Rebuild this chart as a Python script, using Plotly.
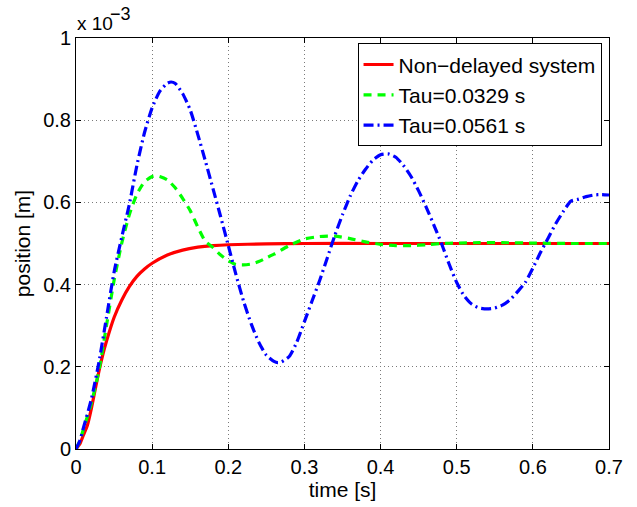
import plotly.graph_objects as go

# Step responses of the position loop (values in units of 1e-3 m)
t_nodelay = [0, 0.005, 0.01, 0.015, 0.02, 0.025, 0.03, 0.035, 0.04, 0.05, 0.06, 0.07,
             0.08, 0.09, 0.10, 0.12, 0.14, 0.16, 0.18, 0.20, 0.25, 0.30, 0.40, 0.50,
             0.60, 0.70]
pos_nodelay = [0, 0.012, 0.035, 0.058, 0.097, 0.143, 0.188, 0.228, 0.262, 0.32, 0.362,
               0.395, 0.42, 0.438, 0.452, 0.472, 0.484, 0.491, 0.495, 0.497, 0.499, 0.5,
               0.5, 0.5, 0.5, 0.5]

t_tau1 = [0, 0.005, 0.01, 0.02, 0.03, 0.04, 0.05, 0.06, 0.07, 0.08, 0.09, 0.10, 0.105,
          0.11, 0.12, 0.13, 0.14, 0.15, 0.16, 0.17, 0.18, 0.19, 0.20, 0.21, 0.22, 0.23,
          0.24, 0.25, 0.26, 0.28, 0.30, 0.32, 0.34, 0.36, 0.38, 0.40, 0.42, 0.44, 0.46,
          0.48, 0.50, 0.53, 0.56, 0.60, 0.65, 0.70]
pos_tau1 = [0, 0.02, 0.05, 0.11, 0.19, 0.30, 0.41, 0.50, 0.57, 0.62, 0.65, 0.663, 0.665,
            0.663, 0.655, 0.636, 0.61, 0.58, 0.54, 0.505, 0.49, 0.472, 0.458, 0.449,
            0.448, 0.45, 0.456, 0.465, 0.474, 0.495, 0.511, 0.517, 0.518, 0.512, 0.504,
            0.498, 0.495, 0.495, 0.497, 0.5, 0.501, 0.502, 0.502, 0.501, 0.5, 0.5]

t_tau2 = [0, 0.005, 0.01, 0.02, 0.03, 0.04, 0.05, 0.06, 0.07, 0.08, 0.09, 0.10, 0.11,
          0.12, 0.125, 0.13, 0.14, 0.15, 0.16, 0.17, 0.18, 0.19, 0.20, 0.21, 0.22, 0.23,
          0.24, 0.25, 0.26, 0.265, 0.27, 0.28, 0.29, 0.30, 0.31, 0.32, 0.33, 0.34, 0.35,
          0.36, 0.37, 0.38, 0.39, 0.40, 0.41, 0.42, 0.43, 0.44, 0.45, 0.46, 0.47, 0.48,
          0.49, 0.50, 0.51, 0.52, 0.53, 0.54, 0.55, 0.56, 0.57, 0.58, 0.59, 0.60, 0.61,
          0.62, 0.63, 0.64, 0.65, 0.66, 0.67, 0.68, 0.69, 0.70]
pos_tau2 = [0, 0.02, 0.053, 0.12, 0.21, 0.32, 0.43, 0.515, 0.595, 0.69, 0.77, 0.83, 0.87,
            0.89, 0.893, 0.89, 0.865, 0.825, 0.765, 0.70, 0.633, 0.565, 0.495, 0.425,
            0.36, 0.305, 0.26, 0.228, 0.213, 0.21, 0.212, 0.225, 0.26, 0.31, 0.36, 0.41,
            0.465, 0.52, 0.57, 0.615, 0.652, 0.68, 0.703, 0.716, 0.718, 0.71, 0.69,
            0.663, 0.628, 0.588, 0.545, 0.5, 0.45, 0.405, 0.372, 0.352, 0.343, 0.341,
            0.343, 0.35, 0.363, 0.383, 0.405, 0.44, 0.478, 0.513, 0.548, 0.578, 0.603,
            0.608, 0.614, 0.618, 0.619, 0.618]

x_ticks = [0, 0.1, 0.2, 0.3, 0.4, 0.5, 0.6, 0.7]
x_ticklabels = ["0", "0.1", "0.2", "0.3", "0.4", "0.5", "0.6", "0.7"]
y_ticks = [0, 0.2, 0.4, 0.6, 0.8, 1.0]
y_ticklabels = ["0", "0.2", "0.4", "0.6", "0.8", "1"]

FONT = "Liberation Sans, Arial, Helvetica, sans-serif"

fig = go.Figure()
fig.add_trace(go.Scatter(x=t_nodelay, y=pos_nodelay, mode="lines",
                         name="Non\u2212delayed system",
                         line=dict(color="#ff0000", width=3.2, shape="spline", smoothing=0.6)))
fig.add_trace(go.Scatter(x=t_tau1, y=pos_tau1, mode="lines", name="Tau=0.0329 s",
                         line=dict(color="#00ff00", width=3.2, dash="8px,6px",
                                   shape="spline", smoothing=0.6)))
fig.add_trace(go.Scatter(x=t_tau2, y=pos_tau2, mode="lines", name="Tau=0.0561 s",
                         line=dict(color="#0000ff", width=3.2, dash="10px,4px,2px,4px",
                                   shape="spline", smoothing=0.6)))

axis_common = dict(
    showline=True, linecolor="black", linewidth=1, mirror="allticks",
    ticks="inside", ticklen=5, tickcolor="black", tickwidth=1,
    showgrid=True, gridcolor="#7a7a7a", griddash="1px,3px", gridwidth=1,
    zeroline=False, tickfont=dict(family=FONT, size=20, color="black"),
)

fig.update_layout(
    width=637, height=507,
    margin=dict(l=76, r=28, t=38, b=52),
    paper_bgcolor="white", plot_bgcolor="white",
    font=dict(family=FONT, size=20, color="black"),
    xaxis=dict(range=[0, 0.7], tickvals=x_ticks, ticktext=x_ticklabels,
               title=dict(text="time [s]", font=dict(family=FONT, size=21), standoff=2),
               **axis_common),
    yaxis=dict(range=[0, 1.0], tickvals=y_ticks, ticktext=y_ticklabels,
               title=dict(text="position [m]", font=dict(family=FONT, size=21), standoff=6),
               **axis_common),
    legend=dict(x=0.986, y=0.987, xanchor="right", yanchor="top",
                bgcolor="white", bordercolor="black", borderwidth=1,
                font=dict(family=FONT, size=21), tracegroupgap=0,
                itemwidth=30),
    showlegend=True,
)

# Axis exponent multiplier: base text and raised exponent
fig.add_annotation(xref="paper", yref="paper", x=0.0, y=1.0, xanchor="left", yanchor="bottom",
                   text="x 10", showarrow=False, xshift=-1, yshift=2,
                   font=dict(family=FONT, size=19, color="black"))
fig.add_annotation(xref="paper", yref="paper", x=0.0, y=1.0, xanchor="left", yanchor="bottom",
                   text="\u22123", showarrow=False, xshift=32, yshift=12,
                   font=dict(family=FONT, size=18, color="black"))

fig.write_html("out.html")
